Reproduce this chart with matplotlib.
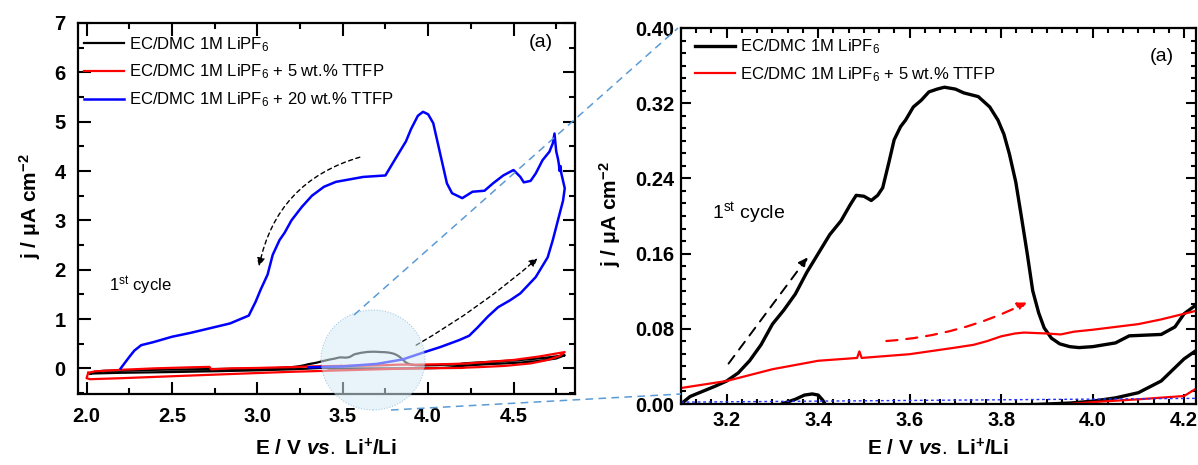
import matplotlib
matplotlib.use("Agg")
import matplotlib.pyplot as plt
from matplotlib.lines import Line2D
from matplotlib.patches import Ellipse
from matplotlib.ticker import MultipleLocator, AutoMinorLocator, FormatStrFormatter

plt.rcParams['font.family'] = ['Liberation Sans', 'DejaVu Sans']
plt.rcParams['mathtext.fontset'] = 'custom'
plt.rcParams['mathtext.rm'] = 'Liberation Sans'
plt.rcParams['mathtext.it'] = 'Liberation Sans:italic'
plt.rcParams['mathtext.bf'] = 'Liberation Sans:bold'
plt.rcParams['mathtext.bfit'] = 'Liberation Sans:italic:bold'

# данные: EC/DMC 1M LiPF6 (чёрная), прямая и обратная развёртка
black_fwd_x = [2.02, 2.05, 2.1, 2.3, 2.5, 2.7, 2.9, 3.0, 3.1, 3.12, 3.15, 3.175, 3.2, 3.225, 3.25,
               3.275, 3.3, 3.325, 3.35, 3.375, 3.4, 3.425, 3.45, 3.47, 3.483, 3.5, 3.516, 3.53, 3.541,
               3.555, 3.566, 3.58, 3.591, 3.608, 3.625, 3.642, 3.66, 3.676, 3.7, 3.718, 3.75, 3.775,
               3.793, 3.806, 3.818, 3.832, 3.844, 3.857, 3.869, 3.882, 3.894, 3.91, 3.928, 3.95, 3.97,
               4.0, 4.05, 4.08, 4.15, 4.18, 4.2, 4.225, 4.3, 4.4, 4.5, 4.6, 4.7, 4.8]
black_fwd_y = [-0.11, -0.07, -0.05, -0.035, -0.025, -0.015, -0.008, -0.004, 0.0, 0.008, 0.014, 0.019,
               0.0245, 0.033, 0.046, 0.063, 0.085, 0.1, 0.117, 0.14, 0.16, 0.18, 0.195, 0.212, 0.222,
               0.221, 0.2165, 0.222, 0.23, 0.258, 0.281, 0.295, 0.302, 0.316, 0.323, 0.332, 0.335,
               0.337, 0.335, 0.331, 0.327, 0.316, 0.302, 0.287, 0.266, 0.236, 0.2, 0.16, 0.1205, 0.097,
               0.081, 0.07, 0.064, 0.061, 0.06, 0.061, 0.065, 0.0725, 0.074, 0.082, 0.096, 0.105, 0.12,
               0.14, 0.16, 0.185, 0.22, 0.265]
black_rev_x = [4.8, 4.75, 4.65, 4.55, 4.45, 4.35, 4.27, 4.225, 4.2, 4.15, 4.1, 4.05, 4.0, 3.95, 3.85, 3.7,
               3.55, 3.45, 3.42, 3.41, 3.4, 3.387, 3.37, 3.35, 3.32, 3.3, 3.2, 3.1, 3.0, 2.8, 2.5, 2.2,
               2.03, 2.02]
black_rev_y = [0.265, 0.2, 0.15, 0.12, 0.1, 0.085, 0.068, 0.0565, 0.048, 0.0245, 0.012, 0.0065, 0.003,
               0.001, -0.001, -0.002, -0.003, -0.004, -0.004, 0.004, 0.0095, 0.0107, 0.0095, 0.005, 0.0,
               -0.005, -0.02, -0.03, -0.04, -0.055, -0.075, -0.09, -0.105, -0.11]

# + 5 wt.% TTFP (красная)
red_fwd_x = [2.01, 2.05, 2.2, 2.4, 2.6, 2.72, 2.73, 2.85, 3.0, 3.1, 3.2, 3.3, 3.4, 3.485, 3.49, 3.495,
             3.6, 3.7, 3.74, 3.77, 3.8, 3.83, 3.85, 3.9, 3.93, 3.96, 4.0, 4.1, 4.15, 4.2, 4.225, 4.35,
             4.5, 4.65, 4.8]
red_fwd_y = [-0.09, -0.06, -0.03, 0.0, 0.02, 0.03, -0.02, 0.0, 0.008, 0.017, 0.0245, 0.037, 0.046, 0.049,
             0.056, 0.049, 0.053, 0.06, 0.063, 0.067, 0.072, 0.075, 0.076, 0.075, 0.074, 0.077, 0.079,
             0.085, 0.09, 0.096, 0.099, 0.13, 0.17, 0.24, 0.33]
red_rev_x = [4.8, 4.77, 4.7, 4.6, 4.45, 4.3, 4.225, 4.2, 4.1, 4.0, 3.9, 3.7, 3.5, 3.2, 3.0, 2.5, 2.2,
             2.02, 2.0, 2.01]
red_rev_y = [0.33, 0.25, 0.17, 0.1, 0.05, 0.025, 0.016, 0.0085, 0.005, 0.002, -0.002, -0.02, -0.04,
             -0.07, -0.095, -0.16, -0.2, -0.22, -0.2, -0.09]

# + 20 wt.% TTFP (синяя)
blue_fwd_x = [3.3, 3.5, 3.7, 3.85, 3.98, 4.07, 4.18, 4.24, 4.29, 4.35, 4.41, 4.48, 4.54, 4.63, 4.7,
              4.73, 4.76, 4.79, 4.8]
blue_fwd_y = [0.02, 0.04, 0.09, 0.18, 0.33, 0.43, 0.57, 0.66, 0.83, 1.05, 1.24, 1.38, 1.52, 1.85, 2.25,
              2.6, 3.0, 3.4, 3.65]
blue_rev_x = [4.8, 4.79, 4.78, 4.775, 4.77, 4.765, 4.76, 4.75, 4.74, 4.73, 4.71, 4.67, 4.63, 4.6, 4.56,
              4.54, 4.5, 4.44, 4.38, 4.33, 4.26, 4.2, 4.14, 4.11, 4.07, 4.03, 4.0, 3.97, 3.94, 3.9,
              3.87, 3.8, 3.75, 3.62, 3.46, 3.39, 3.32, 3.26, 3.2, 3.16, 3.13, 3.09, 3.06, 3.02, 2.99,
              2.95, 2.84, 2.61, 2.5, 2.39, 2.32, 2.28, 2.25, 2.2]
blue_rev_y = [3.65, 3.8, 3.95, 4.1, 4.0, 4.15, 4.25, 4.4, 4.76, 4.56, 4.39, 4.22, 3.95, 3.8, 3.77, 3.88,
              4.02, 3.91, 3.75, 3.6, 3.58, 3.45, 3.55, 3.75, 4.36, 4.97, 5.15, 5.2, 5.12, 4.85, 4.6,
              4.2, 3.91, 3.88, 3.78, 3.68, 3.5, 3.27, 3.0, 2.75, 2.6, 2.3, 1.9, 1.6, 1.35, 1.07, 0.91,
              0.72, 0.64, 0.53, 0.47, 0.36, 0.23, 0.0]

# пунктирная базовая линия на правом графике
base_x = [3.1, 4.225]
base_y = [0.002, 0.006]

lab_black = r'EC/DMC 1M LiPF$_6$'
lab_red = r'EC/DMC 1M LiPF$_6$ + 5 wt.% TTFP'
lab_blue = r'EC/DMC 1M LiPF$_6$ + 20 wt.% TTFP'
xlab = r'E / V $\boldsymbol{vs.}$ Li$^{\mathbf{+}}$/Li'
ylab = r'j / μA cm$^{\mathbf{-2}}$'

W, H = 1198, 465
fig = plt.figure(figsize=(W / 100, H / 100), dpi=100)
ax1 = fig.add_axes([78 / W, 1 - 394 / H, 497 / W, 371 / H])
ax2 = fig.add_axes([681 / W, 1 - 404 / H, 515 / W, 376 / H])

bx = black_fwd_x + black_rev_x
by = black_fwd_y + black_rev_y
rx = red_fwd_x + red_rev_x
ry = red_fwd_y + red_rev_y

# левый график
ax1.plot(bx, by, color='k', lw=1.6, label=lab_black)
ax1.plot(rx, ry, color='#ff0000', lw=1.6, label=lab_red)
ax1.plot(blue_fwd_x + blue_rev_x, blue_fwd_y + blue_rev_y, color='#0000ff', lw=1.8, label=lab_blue)
ax1.set_xlim(1.95, 4.86)
ax1.set_ylim(-0.52, 7)
ax1.xaxis.set_major_locator(MultipleLocator(0.5))
ax1.xaxis.set_minor_locator(MultipleLocator(0.25))
ax1.yaxis.set_major_locator(MultipleLocator(1))
ax1.yaxis.set_minor_locator(MultipleLocator(0.5))
ax1.tick_params(which='both', direction='in', top=True, right=True, width=1.5, labelsize=14.5, pad=9)
ax1.tick_params(which='major', length=9)
ax1.tick_params(which='minor', length=4.5)
ax1.xaxis.set_major_formatter(FormatStrFormatter('%.1f'))
ax1.yaxis.set_major_formatter(FormatStrFormatter('%d'))
for t in ax1.get_xticklabels() + ax1.get_yticklabels():
    t.set_fontweight('bold')
ax1.set_xlabel(xlab, fontsize=15, fontweight='bold')
ax1.set_ylabel(ylab, fontsize=15, fontweight='bold')
ax1.xaxis.set_label_coords(0.5, -0.118)
ax1.yaxis.set_label_coords(-0.07, 0.507)
ax1.legend(loc='upper left', bbox_to_anchor=(0.012, 0.968), frameon=False, fontsize=12,
           handlelength=2.4, handletextpad=0.3, labelspacing=0.55, borderaxespad=0, borderpad=0)
ax1.text(4.66, 6.61, '(a)', fontsize=14, ha='center', va='center')
ax1.text(2.13, 1.68, r'1$^{\mathrm{st}}$ cycle', fontsize=12, ha='left', va='center')
ax1.annotate('', xy=(3.01, 2.07), xytext=(3.60, 4.28),
             arrowprops=dict(arrowstyle='-|>', color='k', lw=1, linestyle=(0, (3, 2.5)),
                             connectionstyle='arc3,rad=0.3', mutation_scale=12, shrinkA=0, shrinkB=0))
ax1.annotate('', xy=(4.64, 2.23), xytext=(3.93, 0.47),
             arrowprops=dict(arrowstyle='-|>', color='k', lw=1, linestyle=(0, (3, 2.5)),
                             connectionstyle='arc3,rad=0.05', mutation_scale=12, shrinkA=0, shrinkB=0))

# правый график (увеличенный фрагмент)
ax2.plot(bx, by, color='k', lw=2.4, label=lab_black)
ax2.plot(rx, ry, color='#ff0000', lw=1.6, label=lab_red)
ax2.plot(base_x, base_y, color='#2030ff', lw=1, linestyle=(0, (2, 2)))
ax2.set_xlim(3.1, 4.226)
ax2.set_ylim(0, 0.4)
ax2.xaxis.set_major_locator(MultipleLocator(0.2))
ax2.xaxis.set_minor_locator(AutoMinorLocator(6))
ax2.yaxis.set_major_locator(MultipleLocator(0.08))
ax2.yaxis.set_minor_locator(AutoMinorLocator(6))
ax2.tick_params(which='both', direction='in', top=True, right=True, width=1.5, labelsize=14.5, pad=5)
ax2.tick_params(which='major', length=7)
ax2.tick_params(which='minor', length=3.5)
ax2.xaxis.set_major_formatter(FormatStrFormatter('%.1f'))
ax2.yaxis.set_major_formatter(FormatStrFormatter('%.2f'))
for t in ax2.get_xticklabels() + ax2.get_yticklabels():
    t.set_fontweight('bold')
ax2.set_xlabel(xlab, fontsize=15, fontweight='bold')
ax2.set_ylabel(ylab, fontsize=15, fontweight='bold')
ax2.xaxis.set_label_coords(0.5, -0.092)
ax2.yaxis.set_label_coords(-0.113, 0.505)
ax2.legend(loc='upper left', bbox_to_anchor=(0.027, 0.975), frameon=False, fontsize=12,
           handlelength=2.4, handletextpad=0.3, labelspacing=0.55, borderaxespad=0, borderpad=0)
ax2.text(4.152, 0.370, '(a)', fontsize=14, ha='center', va='center')
ax2.text(3.167, 0.2027, r'1$^{\mathrm{st}}$ cycle', fontsize=14, ha='left', va='center')
ax2.annotate('', xy=(3.377, 0.156), xytext=(3.204, 0.043),
             arrowprops=dict(arrowstyle='-|>', color='k', lw=1.4, linestyle=(0, (5, 4)),
                             mutation_scale=13, shrinkA=0, shrinkB=0))
ax2.annotate('', xy=(3.856, 0.108), xytext=(3.549, 0.067),
             arrowprops=dict(arrowstyle='-|>', color='#ff0000', lw=1.6, linestyle=(0, (5, 4)),
                             connectionstyle='arc3,rad=0.1', mutation_scale=13, shrinkA=0, shrinkB=0))

for ax in (ax1, ax2):
    for s in ax.spines.values():
        s.set_linewidth(1.6)

# круг-лупа и соединительные линии
circ = Ellipse((373 / W, 1 - 360 / H), 104 / W, 100 / H, transform=fig.transFigure,
               facecolor='#d8ecf6', alpha=0.55, edgecolor='#6aa8d8', lw=0.8, linestyle=(0, (1, 1.5)),
               zorder=5)
fig.add_artist(circ)
for (x1, y1), (x2, y2) in [((354, 315), (678, 28)), ((391, 410), (681, 394))]:
    fig.add_artist(Line2D([x1 / W, x2 / W], [1 - y1 / H, 1 - y2 / H], transform=fig.transFigure,
                          color='#5b9bd5', lw=1.1, linestyle=(0, (5, 3.5)), zorder=5))

fig.savefig('out.png', dpi=100)
